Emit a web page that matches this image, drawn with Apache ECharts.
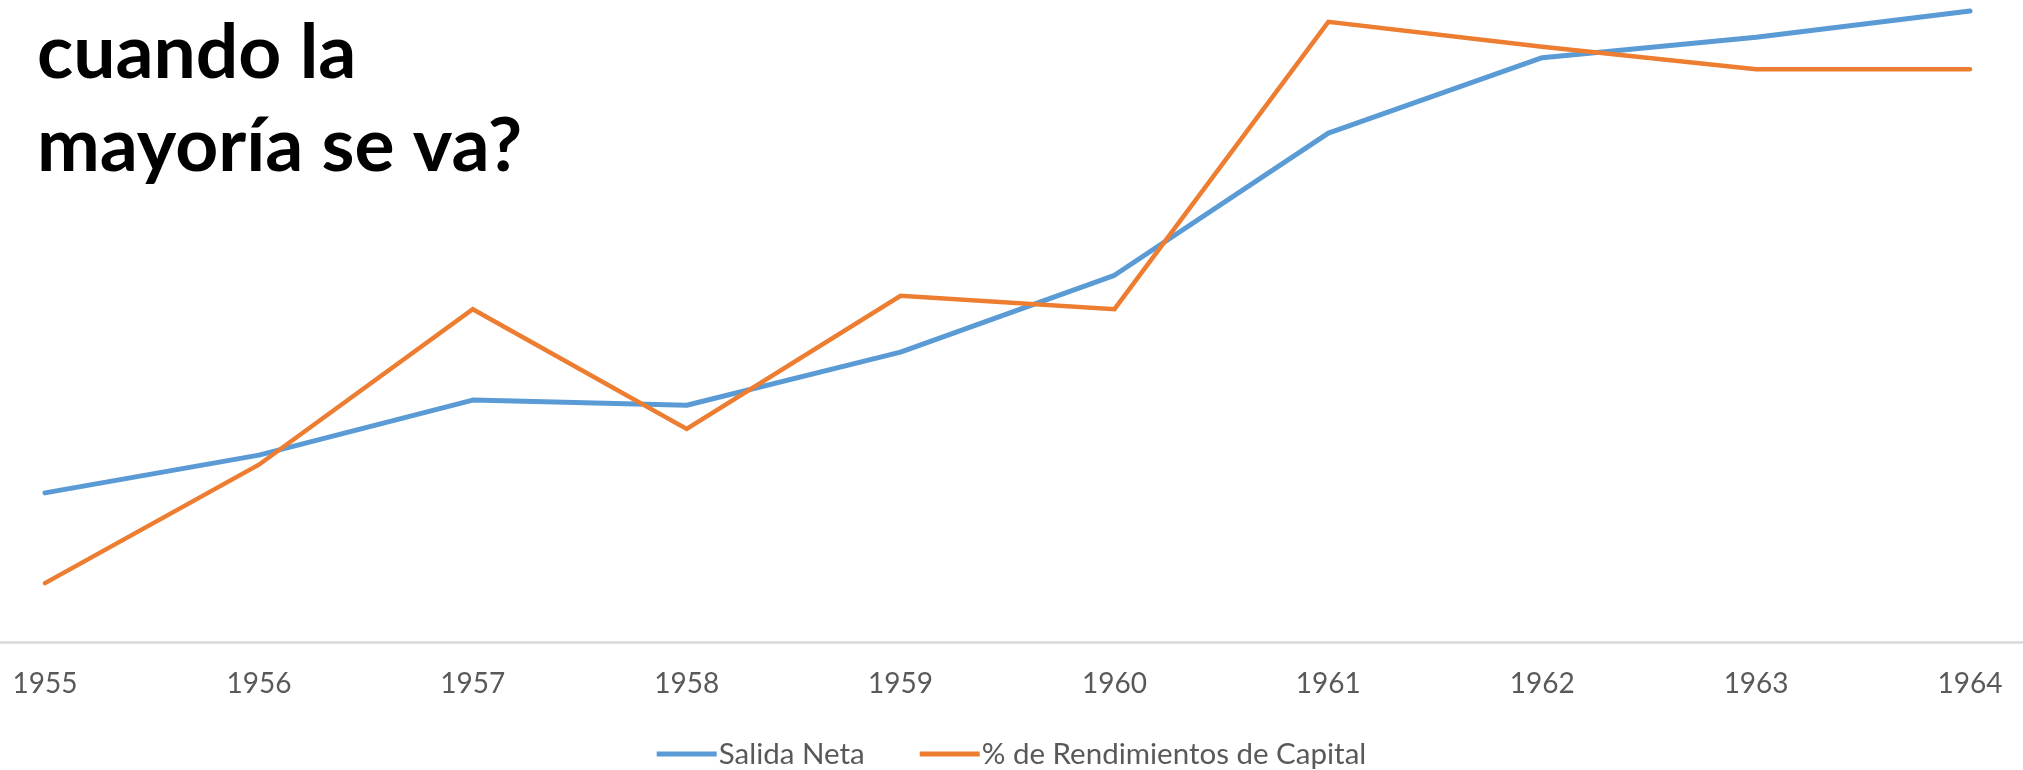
<!DOCTYPE html>
<html>
<head>
<meta charset="utf-8">
<script src="https://cdn.jsdelivr.net/npm/echarts@6/dist/echarts.min.js"></script>
<style>
html,body{margin:0;padding:0;background:#fff;}
#chart{width:2023px;height:770px;}
</style>
</head>
<body>
<div id="chart"></div>
<script>
const years = ['1955','1956','1957','1958','1959','1960','1961','1962','1963','1964'];
const salidaNeta = [23.3, 29.2, 37.8, 37.0, 45.3, 57.3, 79.5, 91.3, 94.5, 98.6];
const rendimientos = [9.2, 27.7, 52.0, 33.3, 54.1, 52.0, 96.9, 93.0, 89.5, 89.5];
const seriesNames = ['Salida Neta', '% de Rendimientos de Capital'];
const titleText = 'cuando la\nmayoría se va?';

const chart = echarts.init(document.getElementById('chart'));
chart.setOption({
  animation: false,
  backgroundColor: '#ffffff',
  title: {
    text: titleText,
    left: 32,
    top: 2,
    textStyle: {
      fontFamily: 'Lato',
      fontWeight: 'bold',
      fontSize: 75,
      lineHeight: 93,
      color: '#000000'
    }
  },
  legend: {
    data: seriesNames,
    left: 'center',
    top: 734,
    icon: 'rect',
    itemWidth: 60,
    itemHeight: 5,
    itemGap: 55,
    textStyle: { fontFamily: 'Lato', fontSize: 29.5, color: '#595959', padding: [0, 0, 0, -3] }
  },
  grid: [
    { left: 45, right: 53, top: 2, bottom: 128 },
    { left: 0, right: 0, top: 2, bottom: 128 }
  ],
  xAxis: [
    {
      type: 'category',
      gridIndex: 0,
      data: years,
      boundaryGap: false,
      axisLine: { show: false },
      axisTick: { show: false },
      axisLabel: { fontFamily: 'Lato', fontSize: 28, color: '#595959', margin: 28 }
    },
    {
      type: 'value',
      gridIndex: 1,
      min: 0, max: 1,
      axisLine: { show: true, lineStyle: { color: '#D9D9D9', width: 2.5 } },
      axisTick: { show: false },
      axisLabel: { show: false },
      splitLine: { show: false }
    }
  ],
  yAxis: [
    { type: 'value', gridIndex: 0, min: 0, max: 100, show: false },
    { type: 'value', gridIndex: 1, min: 0, max: 1, show: false }
  ],
  series: [
    {
      name: seriesNames[0],
      type: 'line',
      data: salidaNeta,
      showSymbol: false,
      symbol: 'none',
      lineStyle: { color: '#5B9BD5', width: 5, cap: 'round', join: 'round' },
      itemStyle: { color: '#5B9BD5' },
      z: 2
    },
    {
      name: seriesNames[1],
      type: 'line',
      data: rendimientos,
      showSymbol: false,
      symbol: 'none',
      lineStyle: { color: '#ED7D31', width: 4.5, cap: 'round', join: 'miter' },
      itemStyle: { color: '#ED7D31' },
      z: 3
    }
  ]
});
</script>
</body>
</html>
